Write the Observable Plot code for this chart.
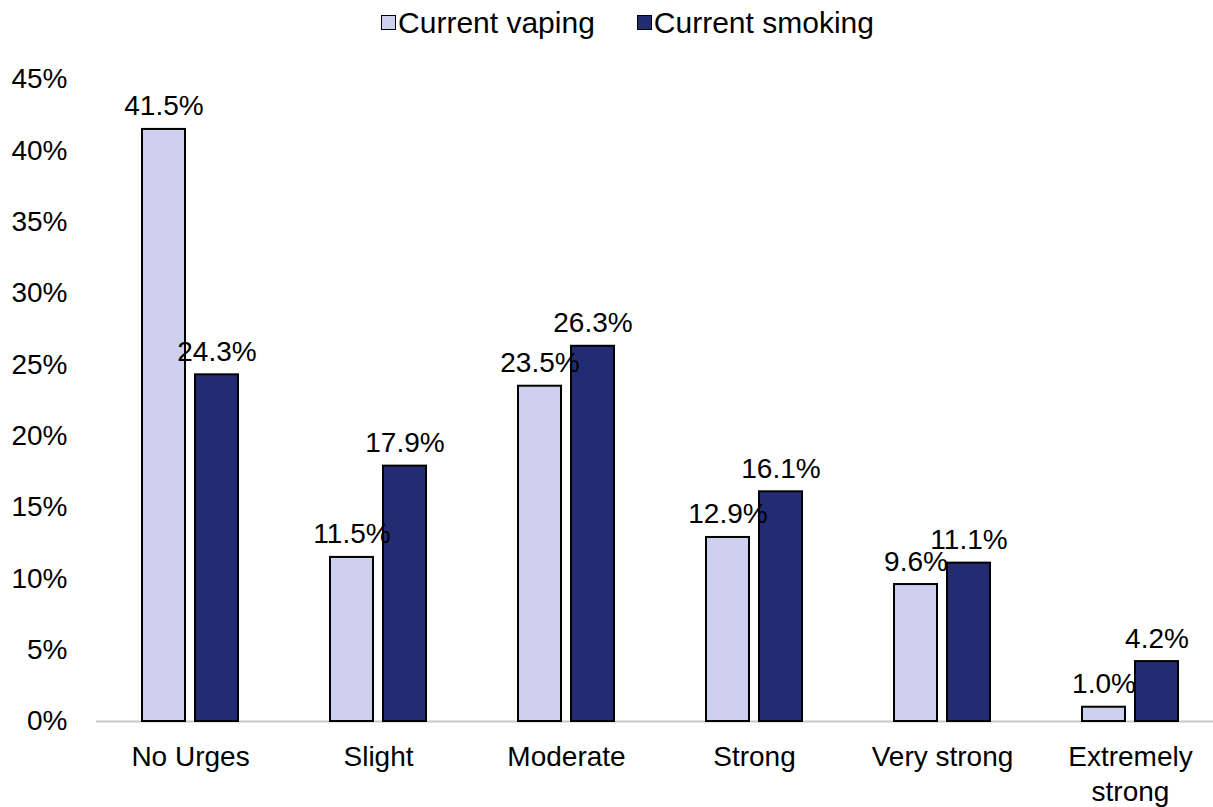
<!DOCTYPE html>
<html>
<head>
<meta charset="utf-8">
<script src="https://cdn.jsdelivr.net/npm/d3@7"></script>
<script src="https://cdn.jsdelivr.net/npm/@observablehq/plot@0.6"></script>
<style>
  html, body { margin: 0; padding: 0; background: #fff; overflow: hidden; }
  body { font-family: "Liberation Sans", Arial, sans-serif; width: 1213px; }
  #legend { height: 45px; display: flex; justify-content: center; align-items: center; gap: 42px; font-size: 30px; color: #000; padding-left: 42px; box-sizing: border-box; }
  .item { display: flex; align-items: center; gap: 2px; }
  .sw { width: 15px; height: 15px; border: 1.5px solid #000; box-sizing: border-box; }
</style>
</head>
<body>
<div id="legend"></div>
<div id="chart"></div>
<script>
const categories = ["No Urges", "Slight", "Moderate", "Strong", "Very strong", "Extremely strong"];
const categoryLabels = ["No Urges", "Slight", "Moderate", "Strong", "Very strong", "Extremely\nstrong"];
const series = ["Current vaping", "Current smoking"];
const colors = ["#CDD0EE", "#232C72"];
const vaping = [41.5, 11.5, 23.5, 12.9, 9.6, 1.0];
const smoking = [24.3, 17.9, 26.3, 16.1, 11.1, 4.2];
const yTicks = [0, 5, 10, 15, 20, 25, 30, 35, 40, 45];

const data = [];
categories.forEach((c, i) => {
  data.push({category: c, series: series[0], value: vaping[i]});
  data.push({category: c, series: series[1], value: smoking[i]});
});

const legend = document.getElementById("legend");
series.forEach((s, i) => {
  const item = document.createElement("div");
  item.className = "item";
  const sw = document.createElement("div");
  sw.className = "sw";
  sw.style.background = colors[i];
  const t = document.createElement("span");
  t.textContent = s;
  item.appendChild(sw);
  item.appendChild(t);
  legend.appendChild(item);
});

const labelMap = new Map(categories.map((c, i) => [c, categoryLabels[i]]));

const chart = Plot.plot({
  width: 1213,
  height: 762,
  marginLeft: 96,
  marginRight: -11,
  marginTop: 34,
  marginBottom: 86,
  style: {fontFamily: "Liberation Sans, Arial, sans-serif", fontSize: "28px", color: "#000", background: "#fff"},
  fx: {domain: categories, padding: 0, label: null},
  x: {domain: series, paddingInner: 0.19, paddingOuter: 0.866, axis: null},
  y: {domain: [0, 45], label: null},
  color: {domain: series, range: colors},
  marks: [
    Plot.axisY({ticks: yTicks, tickFormat: d => d + "%", tickSize: 0, tickPadding: 29, fontSize: 28, label: null}),
    Plot.axisFx({anchor: "bottom", tickFormat: d => labelMap.get(d), tickSize: 0, tickPadding: 20, fontSize: 28, lineHeight: 1.25, label: null}),
    Plot.ruleY([0], {stroke: "#c8c8c8", strokeWidth: 2}),
    Plot.barY(data, {fx: "category", x: "series", y: "value", fill: "series", stroke: "#000", strokeWidth: 2}),
    Plot.text(data, {fx: "category", x: "series", y: "value", text: d => d.value.toFixed(1) + "%", lineAnchor: "bottom", dy: -14, fontSize: 28, fill: "#000"})
  ]
});
document.getElementById("chart").appendChild(chart);
</script>
</body>
</html>
